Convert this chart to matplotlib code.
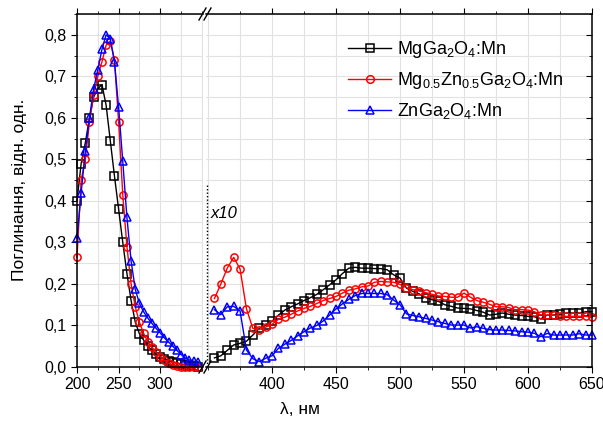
import matplotlib
matplotlib.use("Agg")
import matplotlib.pyplot as plt
from matplotlib.ticker import MultipleLocator, FuncFormatter, FixedLocator
from matplotlib.lines import Line2D

plt.rcParams['font.family'] = ['Liberation Sans', 'DejaVu Sans']
plt.rcParams['mathtext.default'] = 'regular'

# UV part (left segment), step 5 nm
wl_uv = list(range(200, 350, 5))
mg_uv = [0.40, 0.49, 0.54, 0.60, 0.65, 0.67, 0.68, 0.63, 0.545, 0.46,
         0.38, 0.30, 0.225, 0.16, 0.108, 0.08, 0.065, 0.05, 0.04, 0.032,
         0.025, 0.02, 0.015, 0.012, 0.009, 0.007, 0.005, 0.003, 0.002, 0.001]
mgzn_uv = [0.265, 0.45, 0.50, 0.59, 0.655, 0.70, 0.735, 0.775, 0.785, 0.74,
           0.59, 0.415, 0.29, 0.20, 0.145, 0.108, 0.081, 0.061, 0.048, 0.035,
           0.025, 0.016, 0.009, 0.004, 0.002, 0.001, 0.0, 0.0, 0.0, 0.0]
zn_uv = [0.31, 0.42, 0.52, 0.60, 0.67, 0.715, 0.765, 0.80, 0.79, 0.735,
         0.625, 0.495, 0.36, 0.255, 0.187, 0.153, 0.133, 0.118, 0.105, 0.093,
         0.082, 0.07, 0.06, 0.05, 0.04, 0.03, 0.022, 0.017, 0.014, 0.012]

# visible part (right segment, values x10), step 5 nm
wl_vis = list(range(355, 655, 5))
mg_vis = [0.022, 0.027, 0.04, 0.053, 0.057, 0.062, 0.077, 0.093, 0.10, 0.11,
          0.125, 0.137, 0.145, 0.152, 0.16, 0.167, 0.175, 0.186, 0.198, 0.21,
          0.225, 0.238, 0.24, 0.238, 0.238, 0.237, 0.237, 0.234, 0.222, 0.214,
          0.19, 0.182, 0.176, 0.167, 0.162, 0.158, 0.15, 0.146, 0.142, 0.141,
          0.14, 0.136, 0.132, 0.125, 0.127, 0.13, 0.127, 0.125, 0.124, 0.122,
          0.121, 0.116, 0.125, 0.125, 0.127, 0.13, 0.13, 0.13, 0.133, 0.133]
mgzn_vis = [0.165, 0.2, 0.238, 0.264, 0.236, 0.14, 0.093, 0.09, 0.096, 0.103,
            0.115, 0.12, 0.127, 0.135, 0.141, 0.146, 0.153, 0.16, 0.165, 0.17,
            0.178, 0.185, 0.188, 0.193, 0.195, 0.204, 0.206, 0.205, 0.204, 0.199,
            0.191, 0.186, 0.183, 0.179, 0.175, 0.171, 0.17, 0.168, 0.168, 0.178,
            0.168, 0.16, 0.156, 0.151, 0.145, 0.145, 0.143, 0.138, 0.138, 0.137,
            0.133, 0.125, 0.125, 0.125, 0.123, 0.122, 0.122, 0.122, 0.122, 0.12]
zn_vis = [0.138, 0.126, 0.145, 0.146, 0.135, 0.041, 0.02, 0.013, 0.021, 0.027,
          0.045, 0.055, 0.064, 0.075, 0.085, 0.094, 0.10, 0.111, 0.125, 0.14,
          0.152, 0.163, 0.172, 0.177, 0.177, 0.177, 0.177, 0.174, 0.161, 0.15,
          0.128, 0.124, 0.121, 0.117, 0.113, 0.109, 0.105, 0.101, 0.101, 0.101,
          0.094, 0.097, 0.093, 0.09, 0.089, 0.089, 0.088, 0.087, 0.085, 0.084,
          0.081, 0.073, 0.081, 0.077, 0.077, 0.077, 0.077, 0.08, 0.077, 0.077]

uv_ticks = [200, 250, 300]
vis_ticks = [400, 450, 500, 550, 600, 650]

labels = ['MgGa$_2$O$_4$:Mn', 'Mg$_{0.5}$Zn$_{0.5}$Ga$_2$O$_4$:Mn', 'ZnGa$_2$O$_4$:Mn']
colors = ['black', 'red', 'blue']
markers = ['s', 'o', '^']

fig = plt.figure(figsize=(6.03, 4.21), dpi=100)
W, H = 603.0, 421.0
bot = 1 - 367 / H
hgt = (367 - 14) / H
ax1 = fig.add_axes([77 / W, bot, (203.5 - 77) / W, hgt])
ax2 = fig.add_axes([205.5 / W, bot, (592 - 205.5) / W, hgt])

uv = [mg_uv, mgzn_uv, zn_uv]
vis = [mg_vis, mgzn_vis, zn_vis]
for i in range(3):
    ax1.plot(wl_uv, uv[i], color=colors[i], marker=markers[i], ms=5.2, mfc='none',
             mew=1.1, lw=1.0, clip_on=False)
    ax2.plot(wl_vis, vis[i], color=colors[i], marker=markers[i], ms=5.2, mfc='none',
             mew=1.1, lw=1.0, clip_on=False)

comma = FuncFormatter(lambda v, p: ('%.1f' % v).replace('.', ','))
for ax in (ax1, ax2):
    ax.set_ylim(0, 0.85)
    ax.yaxis.set_major_locator(MultipleLocator(0.1))
    ax.yaxis.set_minor_locator(MultipleLocator(0.05))
    ax.xaxis.set_minor_locator(MultipleLocator(25))
    ax.grid(True, which='both', color='#e2e2e2', lw=0.8)
    ax.set_axisbelow(True)
    for s in ax.spines.values():
        s.set_linewidth(1.1)
    ax.tick_params(axis='x', which='both', direction='out', labelsize=11.5, top=True)
    ax.tick_params(axis='x', which='major', length=4)
    ax.tick_params(axis='x', which='minor', length=2.5)

ax1.set_xlim(200, 352)
ax2.set_xlim(348, 650)
ax1.xaxis.set_major_locator(FixedLocator(uv_ticks))
ax2.xaxis.set_major_locator(FixedLocator(vis_ticks))
ax1.spines['right'].set_visible(False)
ax2.spines['left'].set_visible(False)

ax1.yaxis.set_major_formatter(comma)
ax1.tick_params(axis='y', which='both', direction='out', labelsize=11.5)
ax1.tick_params(axis='y', which='major', length=4)
ax1.tick_params(axis='y', which='minor', length=2.5)
ax2.tick_params(axis='y', which='both', left=False, labelleft=False, right=True,
                direction='in')
ax2.tick_params(axis='y', which='major', length=4)
ax2.tick_params(axis='y', which='minor', length=2.5)

# break marks
for yy in (14, 367):
    for dx in (0, 5):
        fig.add_artist(Line2D([(199 + dx) / W, (206 + dx) / W],
                              [1 - (yy + 6) / H, 1 - (yy - 6) / H],
                              color='black', lw=1.0))

ax2.plot([349.5, 349.5], [0, 0.443], color='black', ls=(0, (1, 1.5)), lw=1.0,
         clip_on=False)
ax2.text(352, 0.37, 'x10', fontsize=12, style='italic', va='center')

fig.text(20 / W, 1 - 190 / H, 'Поглинання, відн. одн.', rotation=90,
         fontsize=12.5, va='center', ha='center')
fig.text(300 / W, 1 - 410 / H, 'λ, нм', fontsize=12.5, va='center', ha='center')

handles = [Line2D([], [], color=colors[i], marker=markers[i], ms=5.5, mfc='none',
                  mew=1.1, lw=1.0) for i in range(3)]
fig.legend(handles, labels, loc='upper left', bbox_to_anchor=(348 / W, 1 - 39 / H),
           frameon=False, fontsize=13, handlelength=2.4, handletextpad=0.3,
           labelspacing=0.55, borderpad=0, borderaxespad=0)

fig.savefig('out.png', dpi=100)
